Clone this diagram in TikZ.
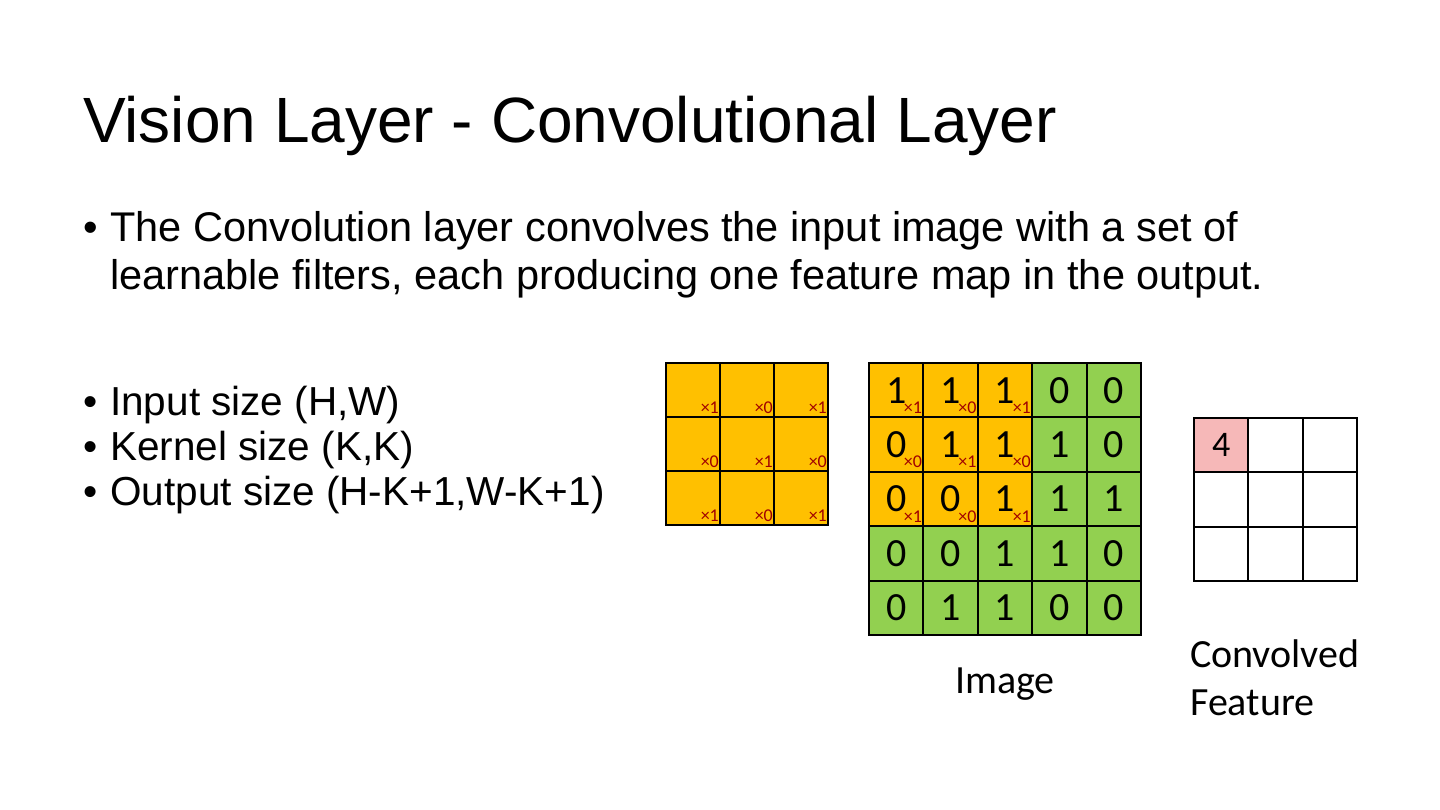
\documentclass[tikz,border=0pt]{standalone}
\usepackage{fontspec}
\setmainfont{Liberation Sans}
\newfontfamily\calfont{Carlito}
\definecolor{korange}{RGB}{255,192,0}
\definecolor{kgreen}{RGB}{146,208,80}
\definecolor{kpink}{RGB}{246,184,184}
\definecolor{kred}{RGB}{160,0,0}
\begin{document}
\begin{tikzpicture}[x=1pt,y=-1pt,
  cell/.style={draw=black,line width=1.8pt,minimum size=54.3pt,inner sep=0pt,anchor=center},
  digit/.style={font=\calfont\fontsize{40}{40}\selectfont},
  mult/.style={font=\calfont\fontsize{18}{18}\selectfont,text=kred,anchor=base east,inner sep=0pt,xshift=-2pt,yshift=5pt},
  titletext/.style={anchor=base west,inner sep=0pt,font=\fontsize{64}{64}\selectfont},
  paratext/.style={anchor=base west,inner sep=0pt,font=\fontsize{41.5}{41.5}\selectfont},
  bodytext/.style={anchor=base west,inner sep=0pt,font=\fontsize{40.5}{40.5}\selectfont},
  caption/.style={anchor=base,inner sep=0pt,font=\calfont\fontsize{40}{40}\selectfont,align=left}
]
\useasboundingbox[fill=white] (0,0) rectangle (1440,810);
% title
\node[titletext] (title) at (83,143) {Vision Layer - Convolutional Layer};
% bullets
\node[paratext] (b1a) at (83,242) {\textbullet};
\node[paratext] (l1a) at (110,242) {The Convolution layer convolves the input image with a set of};
\node[paratext] (l1b) at (110,290) {learnable filters, each producing one feature map in the output.};
\node[bodytext] (b2) at (83,415) {\textbullet};
\node[bodytext] (l2) at (110,415) {Input size (H,W)};
\node[bodytext] (b3) at (83,460) {\textbullet};
\node[bodytext] (l3) at (110,460) {Kernel size (K,K)};
\node[bodytext] (b4) at (83,505) {\textbullet};
\node[bodytext] (l4) at (110,505) {Output size (H-K+1,W-K+1)};
% kernel
\foreach \r in {1,2,3}{
  \foreach \c in {1,2,3}{
    \pgfmathtruncatemacro{\w}{mod(\r+\c+1,2)}
    \node[cell,fill=korange] (k\r\c) at ({666+54*(\c-0.5)},{363+54*(\r-0.5)}) {};
    \node[mult] (km\r\c) at (k\r\c.south east) {×\w};
  }
}
% image
\foreach \r/\vals in {1/{1,1,1,0,0},2/{0,1,1,1,0},3/{0,0,1,1,1},4/{0,0,1,1,0},5/{0,1,1,0,0}}{
  \foreach \v [count=\c] in \vals {
    \pgfmathtruncatemacro{\ino}{(\r<4)&&(\c<4)}
    \ifnum\ino=1
      \node[cell,fill=korange,digit] (i\r\c) at ({869+54.4*(\c-0.5)},{363+54.4*(\r-0.5)}) {\v};
      \pgfmathtruncatemacro{\w}{mod(\r+\c+1,2)}
      \node[mult] (im\r\c) at (i\r\c.south east) {×\w};
    \else
      \node[cell,fill=kgreen,digit] (i\r\c) at ({869+54.4*(\c-0.5)},{363+54.4*(\r-0.5)}) {\v};
    \fi
  }
}
% convolved feature
\foreach \r in {1,2,3}{
  \foreach \c in {1,2,3}{
    \node[cell,fill=white] (o\r\c) at ({1194+54.3*(\c-0.5)},{418+54.3*(\r-0.5)}) {};
  }
}
\node[cell,fill=kpink,font=\calfont\fontsize{36}{36}\selectfont] (o11) at ({1194+54.3*0.5},{418+54.3*0.5}) {4};
% captions
\node[caption] (cimg) at (1005,693) {Image};
\node[caption,anchor=base west] (cconv1) at (1190,667) {Convolved};
\node[caption,anchor=base west] (cconv2) at (1190,715) {Feature};
\end{tikzpicture}
\end{document}
